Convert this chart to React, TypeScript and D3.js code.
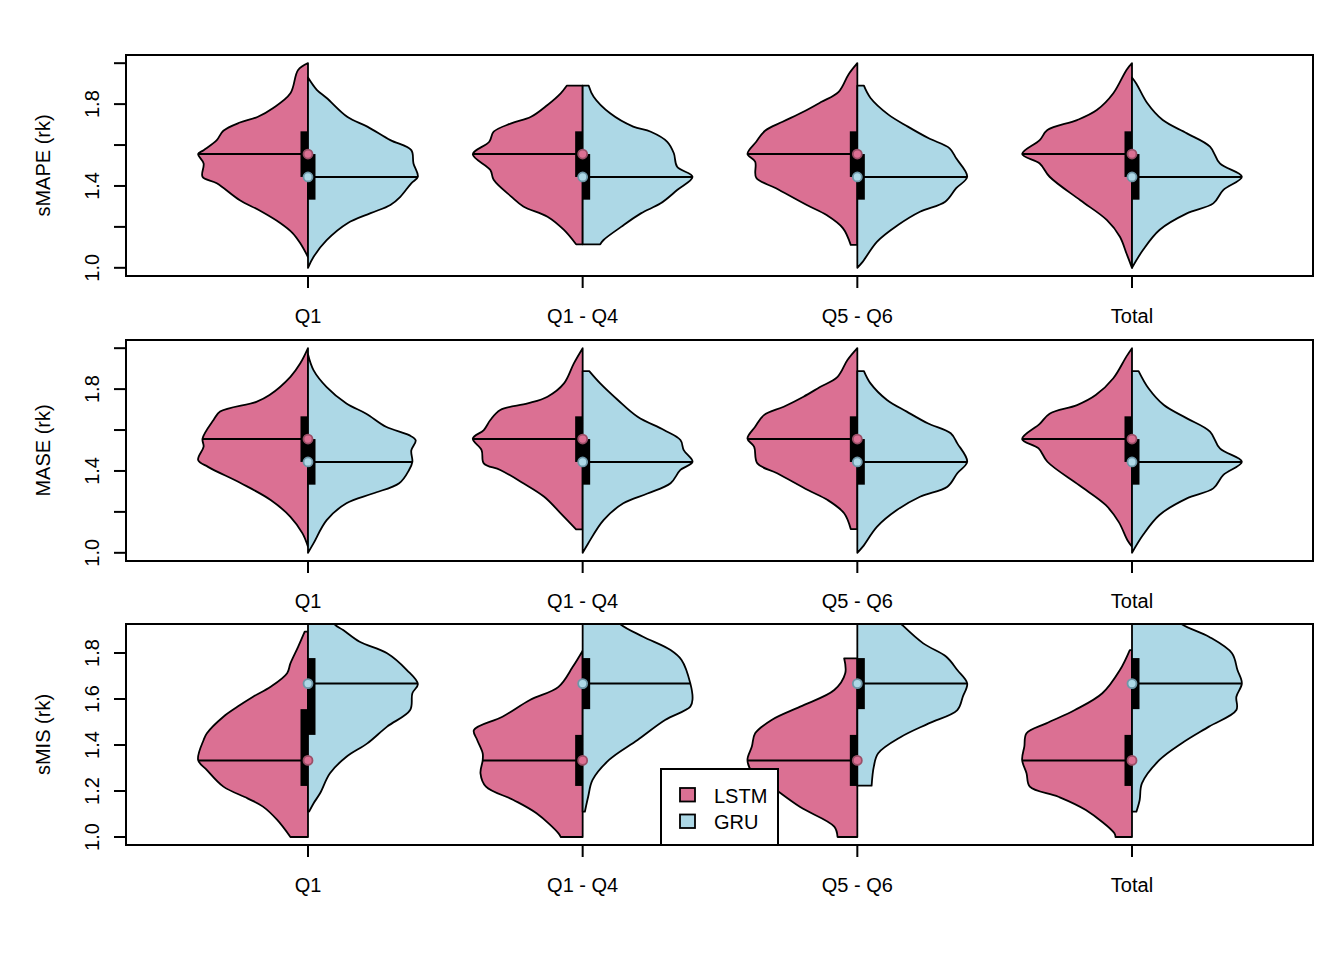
import React from 'react';
import * as d3 from 'd3';

const CATEGORIES = ['Q1', 'Q1 - Q4', 'Q5 - Q6', 'Total'];
const METRICS = ['sMAPE (rk)', 'MASE (rk)', 'sMIS (rk)'];
const MODELS = ['LSTM', 'GRU'];
const COLORS = ['#DB7093', '#ADD8E6'];
const DOT_STROKE = ['#9a4f67', '#6f97a8'];

const TICKS_RK = [1.0, 1.2, 1.4, 1.6, 1.8, 2.0];
const LABELS_RK = [1.0, 1.4, 1.8];
const TICKS_SMIS = [1.0, 1.2, 1.4, 1.6, 1.8];
const LABELS_SMIS = [1.0, 1.2, 1.4, 1.6, 1.8];

// half-violin outlines: [rank value, width relative to widest point], top to bottom
const SMAPE_Q1_LSTM = [[2.0, 0], [1.967, 0.09], [1.853, 0.16], [1.78, 0.32], [1.737, 0.46], [1.71, 0.62], [1.67, 0.77], [1.624, 0.83], [1.575, 0.95], [1.556, 1.0], [1.51, 0.95], [1.445, 0.96], [1.413, 0.83], [1.33, 0.62], [1.28, 0.44], [1.218, 0.25], [1.17, 0.14], [1.12, 0.07], [1.053, 0]];
const SMAPE_Q1_GRU = [[1.93, 0], [1.87, 0.08], [1.83, 0.17], [1.737, 0.36], [1.69, 0.54], [1.624, 0.75], [1.575, 0.94], [1.51, 0.96], [1.445, 1.0], [1.413, 0.94], [1.347, 0.84], [1.307, 0.75], [1.267, 0.57], [1.218, 0.36], [1.135, 0.17], [1.053, 0.05], [1.0, 0]];
const SMAPE_Q14_LSTM = [[1.89, 0.145], [1.853, 0.2], [1.796, 0.32], [1.738, 0.47], [1.706, 0.65], [1.665, 0.81], [1.616, 0.85], [1.555, 1.0], [1.478, 0.84], [1.43, 0.81], [1.348, 0.65], [1.3, 0.54], [1.25, 0.32], [1.185, 0.17], [1.115, 0.06]];
const SMAPE_Q14_GRU = [[1.89, 0.055], [1.836, 0.1], [1.755, 0.25], [1.69, 0.46], [1.665, 0.62], [1.616, 0.77], [1.56, 0.83], [1.494, 0.86], [1.445, 1.0], [1.38, 0.86], [1.315, 0.71], [1.266, 0.53], [1.2, 0.35], [1.136, 0.19], [1.115, 0.16]];
const SMAPE_Q56_LSTM = [[2.0, 0], [1.945, 0.08], [1.86, 0.17], [1.81, 0.33], [1.76, 0.5], [1.714, 0.68], [1.67, 0.84], [1.616, 0.92], [1.556, 1.0], [1.519, 0.93], [1.44, 0.92], [1.389, 0.74], [1.307, 0.46], [1.258, 0.28], [1.193, 0.13], [1.112, 0.06]];
const SMAPE_Q56_GRU = [[1.89, 0.06], [1.83, 0.12], [1.75, 0.28], [1.69, 0.46], [1.633, 0.65], [1.584, 0.84], [1.535, 0.9], [1.445, 1.0], [1.389, 0.9], [1.323, 0.8], [1.274, 0.57], [1.209, 0.37], [1.128, 0.18], [1.03, 0.05], [1.0, 0]];
const SMAPE_TOT_LSTM = [[2.0, 0], [1.967, 0.05], [1.853, 0.17], [1.771, 0.32], [1.722, 0.5], [1.673, 0.77], [1.624, 0.84], [1.556, 1.0], [1.51, 0.84], [1.445, 0.75], [1.33, 0.47], [1.234, 0.23], [1.152, 0.11], [1.07, 0.05], [1.0, 0]];
const SMAPE_TOT_GRU = [[1.93, 0], [1.9, 0.04], [1.804, 0.14], [1.722, 0.28], [1.657, 0.5], [1.592, 0.71], [1.51, 0.8], [1.445, 1.0], [1.38, 0.83], [1.315, 0.74], [1.266, 0.5], [1.185, 0.25], [1.087, 0.1], [1.0, 0]];

const MASE_Q1_LSTM = [[2.0, 0], [1.926, 0.07], [1.86, 0.16], [1.771, 0.35], [1.738, 0.47], [1.69, 0.8], [1.649, 0.86], [1.558, 0.96], [1.519, 0.95], [1.454, 1.0], [1.42, 0.91], [1.34, 0.61], [1.258, 0.34], [1.176, 0.16], [1.095, 0.05], [1.03, 0]];
const MASE_Q1_GRU = [[1.97, 0], [1.893, 0.05], [1.81, 0.17], [1.73, 0.35], [1.68, 0.53], [1.616, 0.71], [1.575, 0.92], [1.55, 0.98], [1.5, 0.94], [1.445, 0.95], [1.405, 0.92], [1.34, 0.83], [1.29, 0.59], [1.242, 0.35], [1.16, 0.17], [1.046, 0.05], [1.0, 0]];
const MASE_Q14_LSTM = [[2.0, 0], [1.926, 0.08], [1.828, 0.17], [1.763, 0.32], [1.73, 0.5], [1.698, 0.75], [1.649, 0.84], [1.6, 0.9], [1.558, 1.0], [1.502, 0.92], [1.437, 0.9], [1.405, 0.75], [1.34, 0.54], [1.274, 0.35], [1.193, 0.2], [1.115, 0.06]];
const MASE_Q14_GRU = [[1.888, 0.06], [1.828, 0.16], [1.747, 0.32], [1.665, 0.5], [1.6, 0.74], [1.551, 0.89], [1.502, 0.92], [1.445, 1.0], [1.405, 0.89], [1.34, 0.8], [1.29, 0.59], [1.242, 0.37], [1.16, 0.19], [1.046, 0.05], [1.0, 0]];
const MASE_Q56_LSTM = [[2.0, 0], [1.942, 0.09], [1.86, 0.18], [1.81, 0.34], [1.763, 0.49], [1.714, 0.67], [1.673, 0.85], [1.616, 0.93], [1.558, 1.0], [1.519, 0.94], [1.437, 0.91], [1.389, 0.73], [1.307, 0.45], [1.258, 0.27], [1.193, 0.12], [1.116, 0.06]];
const MASE_Q56_GRU = [[1.888, 0.06], [1.828, 0.12], [1.747, 0.27], [1.69, 0.45], [1.633, 0.64], [1.584, 0.85], [1.535, 0.91], [1.445, 1.0], [1.389, 0.91], [1.323, 0.82], [1.274, 0.57], [1.209, 0.36], [1.128, 0.18], [1.03, 0.05], [1.0, 0]];
const MASE_TOT_LSTM = [[2.0, 0], [1.96, 0.05], [1.853, 0.17], [1.771, 0.33], [1.722, 0.5], [1.68, 0.75], [1.63, 0.84], [1.556, 1.0], [1.51, 0.85], [1.445, 0.77], [1.33, 0.48], [1.234, 0.24], [1.15, 0.12], [1.06, 0.04], [1.03, 0]];
const MASE_TOT_GRU = [[1.888, 0.06], [1.804, 0.15], [1.722, 0.29], [1.657, 0.5], [1.592, 0.71], [1.51, 0.8], [1.445, 1.0], [1.38, 0.83], [1.315, 0.74], [1.266, 0.5], [1.185, 0.25], [1.087, 0.1], [1.0, 0]];

const SMIS_Q1_LSTM = [[1.893, 0.03], [1.827, 0.09], [1.755, 0.16], [1.712, 0.19], [1.653, 0.34], [1.61, 0.5], [1.567, 0.64], [1.523, 0.77], [1.451, 0.92], [1.422, 0.95], [1.335, 1.0], [1.291, 0.92], [1.219, 0.77], [1.168, 0.55], [1.132, 0.41], [1.074, 0.28], [1.0, 0.16]];
const SMIS_Q1_GRU = [[2.0, 0.16], [1.926, 0.24], [1.9, 0.32], [1.849, 0.47], [1.799, 0.72], [1.726, 0.9], [1.665, 1.0], [1.625, 0.95], [1.552, 0.93], [1.48, 0.72], [1.407, 0.54], [1.349, 0.35], [1.277, 0.2], [1.19, 0.11], [1.146, 0.05], [1.11, 0.01]];
const SMIS_Q14_LSTM = [[1.81, 0], [1.74, 0.09], [1.653, 0.22], [1.596, 0.48], [1.523, 0.73], [1.465, 0.99], [1.422, 0.96], [1.364, 0.91], [1.333, 0.91], [1.277, 0.93], [1.219, 0.88], [1.161, 0.63], [1.103, 0.42], [1.016, 0.22], [1.0, 0.2]];
const SMIS_Q14_GRU = [[2.0, 0.2], [1.926, 0.34], [1.871, 0.55], [1.813, 0.8], [1.77, 0.9], [1.668, 0.98], [1.6, 1.0], [1.567, 0.98], [1.509, 0.75], [1.422, 0.5], [1.335, 0.24], [1.248, 0.09], [1.175, 0.05], [1.11, 0.02]];
const SMIS_Q56_LSTM = [[1.777, 0.12], [1.712, 0.11], [1.639, 0.21], [1.567, 0.52], [1.509, 0.78], [1.451, 0.93], [1.393, 0.96], [1.335, 1.0], [1.277, 0.95], [1.219, 0.78], [1.13, 0.52], [1.045, 0.21], [1.0, 0.18]];
const SMIS_Q56_GRU = [[2.0, 0.25], [1.926, 0.4], [1.842, 0.6], [1.784, 0.81], [1.726, 0.91], [1.668, 1.0], [1.61, 0.96], [1.552, 0.91], [1.494, 0.65], [1.436, 0.4], [1.364, 0.19], [1.306, 0.15], [1.223, 0.13]];
const SMIS_TOT_LSTM = [[1.813, 0.02], [1.726, 0.11], [1.625, 0.27], [1.552, 0.52], [1.494, 0.78], [1.451, 0.96], [1.393, 0.98], [1.335, 1.0], [1.277, 0.96], [1.219, 0.93], [1.175, 0.67], [1.117, 0.42], [1.016, 0.16], [1.0, 0.15]];
const SMIS_TOT_GRU = [[2.0, 0.28], [1.926, 0.45], [1.871, 0.7], [1.799, 0.91], [1.726, 0.96], [1.668, 1.0], [1.61, 0.95], [1.552, 0.95], [1.48, 0.7], [1.407, 0.45], [1.335, 0.25], [1.233, 0.09], [1.161, 0.07], [1.11, 0.04]];

// [first quartile, median, third quartile] per category
const SMAPE_LSTM_STATS = [[1.444, 1.556, 1.667], [1.444, 1.556, 1.667], [1.444, 1.556, 1.667], [1.444, 1.556, 1.667]];
const SMAPE_GRU_STATS = [[1.333, 1.444, 1.556], [1.333, 1.444, 1.556], [1.333, 1.444, 1.556], [1.333, 1.444, 1.556]];
const MASE_LSTM_STATS = [[1.444, 1.556, 1.667], [1.444, 1.556, 1.667], [1.444, 1.556, 1.667], [1.444, 1.556, 1.667]];
const MASE_GRU_STATS = [[1.333, 1.444, 1.556], [1.333, 1.444, 1.556], [1.333, 1.444, 1.556], [1.333, 1.444, 1.556]];
const SMIS_LSTM_STATS = [[1.222, 1.333, 1.556], [1.222, 1.333, 1.444], [1.222, 1.333, 1.444], [1.222, 1.333, 1.444]];
const SMIS_GRU_STATS = [[1.444, 1.667, 1.778], [1.556, 1.667, 1.778], [1.556, 1.667, 1.778], [1.556, 1.667, 1.778]];

const panels = [
  {
    title: METRICS[0], top: 55, domain: [0.96, 2.04], ticks: TICKS_RK, labels: LABELS_RK,
    shapes: [[SMAPE_Q1_LSTM, SMAPE_Q1_GRU], [SMAPE_Q14_LSTM, SMAPE_Q14_GRU], [SMAPE_Q56_LSTM, SMAPE_Q56_GRU], [SMAPE_TOT_LSTM, SMAPE_TOT_GRU]],
    stats: [SMAPE_LSTM_STATS, SMAPE_GRU_STATS],
  },
  {
    title: METRICS[1], top: 340, domain: [0.96, 2.04], ticks: TICKS_RK, labels: LABELS_RK,
    shapes: [[MASE_Q1_LSTM, MASE_Q1_GRU], [MASE_Q14_LSTM, MASE_Q14_GRU], [MASE_Q56_LSTM, MASE_Q56_GRU], [MASE_TOT_LSTM, MASE_TOT_GRU]],
    stats: [MASE_LSTM_STATS, MASE_GRU_STATS],
  },
  {
    title: METRICS[2], top: 624, domain: [0.9652, 1.9262], ticks: TICKS_SMIS, labels: LABELS_SMIS,
    shapes: [[SMIS_Q1_LSTM, SMIS_Q1_GRU], [SMIS_Q14_LSTM, SMIS_Q14_GRU], [SMIS_Q56_LSTM, SMIS_Q56_GRU], [SMIS_TOT_LSTM, SMIS_TOT_GRU]],
    stats: [SMIS_LSTM_STATS, SMIS_GRU_STATS],
    legend: true,
  },
];

const W = 1344;
const H = 960;
const LEFT = 126;
const RIGHT = 1313;
const PANEL_H = 221;
const FONT = '"Liberation Sans", Arial, sans-serif';
const MAX_HALF = 0.4; // widest half-violin, in category units
const BOX_W = 7.5;

// width of a profile at value v (linear between read points)
function widthAt(profile: number[][], v: number) {
  for (let i = 0; i < profile.length - 1; i++) {
    const [v0, w0] = profile[i];
    const [v1, w1] = profile[i + 1];
    if (v <= v0 && v >= v1) return w0 + ((v - v0) / (v1 - v0)) * (w1 - w0);
  }
  return 0;
}

const outline = d3.line().curve(d3.curveCatmullRom.alpha(0.5));

const App: React.FC = () => {
  const x = d3.scaleLinear().domain([0.3374, 4.659]).range([LEFT, RIGHT]);
  const unit = x(1) - x(0);

  return (
    <svg width={W} height={H} style={{ position: 'absolute', left: 0, top: 0, background: '#fff' }}
      fontFamily={FONT}>
      <defs>
        {panels.map((p, pi) => (
          <clipPath id={`clip${pi}`} key={pi}>
            <rect x={LEFT} y={p.top} width={RIGHT - LEFT} height={PANEL_H} />
          </clipPath>
        ))}
      </defs>
      {panels.map((p, pi) => {
        const y = d3.scaleLinear().domain(p.domain).range([p.top + PANEL_H, p.top]);
        const bottom = p.top + PANEL_H;
        const midY = p.top + PANEL_H / 2;
        return (
          <g key={pi}>
            <g clipPath={`url(#clip${pi})`}>
              {CATEGORIES.map((c, ci) => {
                const cx = x(ci + 1);
                return (
                  <g key={c}>
                    {MODELS.map((m, mi) => {
                      const prof = p.shapes[ci][mi];
                      const dir = mi === 0 ? -1 : 1;
                      const pts = prof.map(([v, w]) => [cx + dir * w * MAX_HALF * unit, y(v)] as [number, number]);
                      const edge = outline(pts) as string;
                      const d = `M${cx},${y(prof[0][0])}L` + edge.slice(1) + `L${cx},${y(prof[prof.length - 1][0])}Z`;
                      return (
                        <path key={m} d={d} fill={COLORS[mi]} stroke="#000"
                          strokeWidth={1.8} strokeLinejoin="round" />
                      );
                    })}
                    {MODELS.map((m, mi) => {
                      const [q1, med, q3] = p.stats[mi][ci];
                      const dir = mi === 0 ? -1 : 1;
                      const w = widthAt(p.shapes[ci][mi], med) * MAX_HALF * unit;
                      return (
                        <g key={m}>
                          <line x1={cx} x2={cx + dir * w} y1={y(med)} y2={y(med)} stroke="#000" strokeWidth={2} />
                          <rect x={mi === 0 ? cx - BOX_W : cx} y={y(q3)} width={BOX_W}
                            height={y(q1) - y(q3)} fill="#000" />
                        </g>
                      );
                    })}
                    {MODELS.map((m, mi) => (
                      <circle key={m} cx={cx} cy={y(p.stats[mi][ci][1])} r={4.5}
                        fill={COLORS[mi]} stroke={DOT_STROKE[mi]} strokeWidth={1.8} />
                    ))}
                  </g>
                );
              })}
            </g>
            <rect x={LEFT} y={p.top} width={RIGHT - LEFT} height={PANEL_H} fill="none" stroke="#000" strokeWidth={2} />
            {p.ticks.map(t => (
              <line key={t} x1={LEFT - 12} x2={LEFT} y1={y(t)} y2={y(t)} stroke="#000" strokeWidth={2} />
            ))}
            {p.labels.map(t => (
              <text key={t} transform={`translate(99,${y(t)}) rotate(-90)`} textAnchor="middle" fontSize={20}>
                {t.toFixed(1)}
              </text>
            ))}
            <text transform={`translate(50,${midY}) rotate(-90)`} textAnchor="middle" fontSize={20}>{p.title}</text>
            {CATEGORIES.map((c, ci) => (
              <g key={c}>
                <line x1={x(ci + 1)} x2={x(ci + 1)} y1={bottom} y2={bottom + 12} stroke="#000" strokeWidth={2} />
                <text x={x(ci + 1)} y={bottom + 47} textAnchor="middle" fontSize={20}>{c}</text>
              </g>
            ))}
            {p.legend && (
              <g>
                <rect x={661} y={769} width={117} height={bottom - 769} fill="#fff" stroke="#000" strokeWidth={2} />
                {MODELS.map((m, mi) => (
                  <g key={m}>
                    <rect x={680} y={788 + mi * 26.5} width={15} height={13.5} fill={COLORS[mi]} stroke="#000" strokeWidth={1.8} />
                    <text x={714} y={802.5 + mi * 26} fontSize={20}>{m}</text>
                  </g>
                ))}
              </g>
            )}
          </g>
        );
      })}
    </svg>
  );
};

export default App;
